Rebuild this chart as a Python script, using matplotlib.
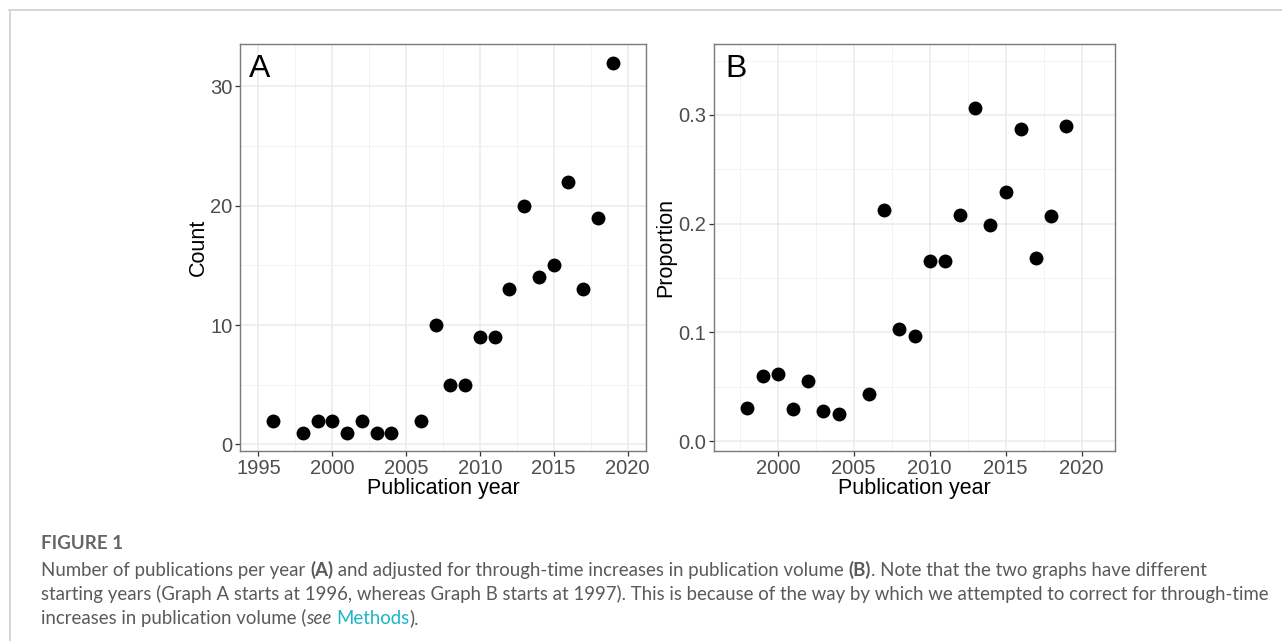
import matplotlib
matplotlib.use("Agg")
import matplotlib.pyplot as plt
from matplotlib.ticker import MultipleLocator
from matplotlib.lines import Line2D

# ---------------- data ----------------
years_a = [1996, 1998, 1999, 2000, 2001, 2002, 2003, 2004, 2006, 2007, 2008,
           2009, 2010, 2011, 2012, 2013, 2014, 2015, 2016, 2017, 2018, 2019]
counts_a = [2, 1, 2, 2, 1, 2, 1, 1, 2, 10, 5, 5, 9, 9, 13, 20, 14, 15, 22, 13, 19, 32]

years_b = [1998, 1999, 2000, 2001, 2002, 2003, 2004, 2006, 2007, 2008, 2009,
           2010, 2011, 2012, 2013, 2014, 2015, 2016, 2017, 2018, 2019]
props_b = [0.030, 0.060, 0.062, 0.029, 0.055, 0.028, 0.025, 0.043, 0.213, 0.103,
           0.097, 0.166, 0.166, 0.208, 0.306, 0.199, 0.229, 0.287, 0.168, 0.207, 0.290]

xticks_a = [1995, 2000, 2005, 2010, 2015, 2020]
xticks_b = [2000, 2005, 2010, 2015, 2020]
yticks_a = [0, 10, 20, 30]
yticks_b = [0.0, 0.1, 0.2, 0.3]

caption_title = "FIGURE 1"
caption_lines = [
    [("Number of publications per year ", "normal", "normal", "#5a5a5a"),
     ("(A)", "bold", "normal", "#5a5a5a"),
     (" and adjusted for through-time increases in publication volume ", "normal", "normal", "#5a5a5a"),
     ("(B)", "bold", "normal", "#5a5a5a"),
     (". Note that the two graphs have different", "normal", "normal", "#5a5a5a")],
    [("starting years (Graph A starts at 1996, whereas Graph B starts at 1997). This is because of the way by which we attempted to correct for through-time",
      "normal", "normal", "#5a5a5a")],
    [("increases in publication volume (", "normal", "normal", "#5a5a5a"),
     ("see", "normal", "italic", "#5a5a5a"),
     (" ", "normal", "normal", "#5a5a5a"),
     ("Methods", "normal", "normal", "#1cb5c6"),
     (").", "normal", "normal", "#5a5a5a")],
]

# ---------------- figure ----------------
W, H = 1282, 641
fig = plt.figure(figsize=(W / 100, H / 100), dpi=100)
fig.patch.set_facecolor("white")

def px_rect(left, top, right, bottom):
    return [left / W, 1 - bottom / H, (right - left) / W, (bottom - top) / H]

# outer frame (top and left lines)
fig.add_artist(Line2D([9 / W, 1.0], [1 - 9.5 / H, 1 - 9.5 / H], color="#cfcfcf", lw=1.2))
fig.add_artist(Line2D([9.5 / W, 9.5 / W], [0.0, 1 - 9.5 / H], color="#cfcfcf", lw=1.2))

ax_a = fig.add_axes(px_rect(240, 44, 646, 451))
ax_b = fig.add_axes(px_rect(714, 44, 1115, 451))

def style(ax):
    ax.set_facecolor("white")
    for s in ax.spines.values():
        s.set_color("#7a7a7a")
        s.set_linewidth(1.0)
    ax.grid(which="major", color="#ebebeb", lw=1.1, zorder=0)
    ax.grid(which="minor", color="#f2f2f2", lw=0.7, zorder=0)
    ax.set_axisbelow(True)
    ax.tick_params(which="major", direction="out", length=3.5, width=0.9,
                   color="#333333", labelsize=14.5, labelcolor="#4d4d4d", pad=2.0)
    ax.tick_params(which="minor", length=0)
    for lab in ax.get_xticklabels() + ax.get_yticklabels():
        lab.set_fontfamily("Liberation Sans")

MS = 100

# Panel A
ax_a.scatter(years_a, counts_a, s=MS, color="black", zorder=3, linewidths=0)
ax_a.set_xlim(1993.75, 2021.25)
ax_a.set_ylim(-0.55, 33.55)
ax_a.set_xticks(xticks_a)
ax_a.set_yticks(yticks_a)
ax_a.xaxis.set_minor_locator(MultipleLocator(2.5))
ax_a.yaxis.set_minor_locator(MultipleLocator(5))
ax_a.set_xticklabels([str(v) for v in xticks_a])
ax_a.set_yticklabels([str(v) for v in yticks_a])
style(ax_a)
ax_a.set_xlabel("Publication year", fontsize=15.5, family="Liberation Sans", labelpad=0)
ax_a.set_ylabel("Count", fontsize=15.5, family="Liberation Sans", labelpad=1)
ax_a.text(9 / 406, (451 - 77) / 407, "A", transform=ax_a.transAxes, fontsize=23,
          family="Liberation Sans", va="baseline", ha="left")

# Panel B
ax_b.scatter(years_b, props_b, s=MS, color="black", zorder=3, linewidths=0)
ax_b.set_xlim(1995.8, 2022.2)
ax_b.set_ylim(-0.0092, 0.3653)
ax_b.set_xticks(xticks_b)
ax_b.set_yticks(yticks_b)
ax_b.xaxis.set_minor_locator(MultipleLocator(2.5))
ax_b.yaxis.set_minor_locator(MultipleLocator(0.05))
ax_b.set_xticklabels([str(v) for v in xticks_b])
ax_b.set_yticklabels([f"{v:.1f}" for v in yticks_b])
style(ax_b)
ax_b.set_xlabel("Publication year", fontsize=15.5, family="Liberation Sans", labelpad=0)
ax_b.set_ylabel("Proportion", fontsize=15.5, family="Liberation Sans", labelpad=1.5)
ax_b.text(11 / 401, (451 - 77) / 407, "B", transform=ax_b.transAxes, fontsize=23,
          family="Liberation Sans", va="baseline", ha="left")

# ---------------- caption ----------------
cap_font = "Lato"
fig.text(41 / W, 1 - 549 / H, caption_title, fontsize=13.5, fontweight="bold",
         color="#666666", family=cap_font, va="baseline", ha="left")

fig.canvas.draw()
renderer = fig.canvas.get_renderer()
baselines = [576, 600, 624]
for line, yb in zip(caption_lines, baselines):
    x = 41.0
    for txt, wt, st, col in line:
        t = fig.text(x / W, 1 - yb / H, txt, fontsize=13.4, fontweight=wt, fontstyle=st,
                     color=col, family=cap_font, va="baseline", ha="left")
        bb = t.get_window_extent(renderer=renderer)
        x += bb.width

fig.savefig("out.png", dpi=100, facecolor="white")
